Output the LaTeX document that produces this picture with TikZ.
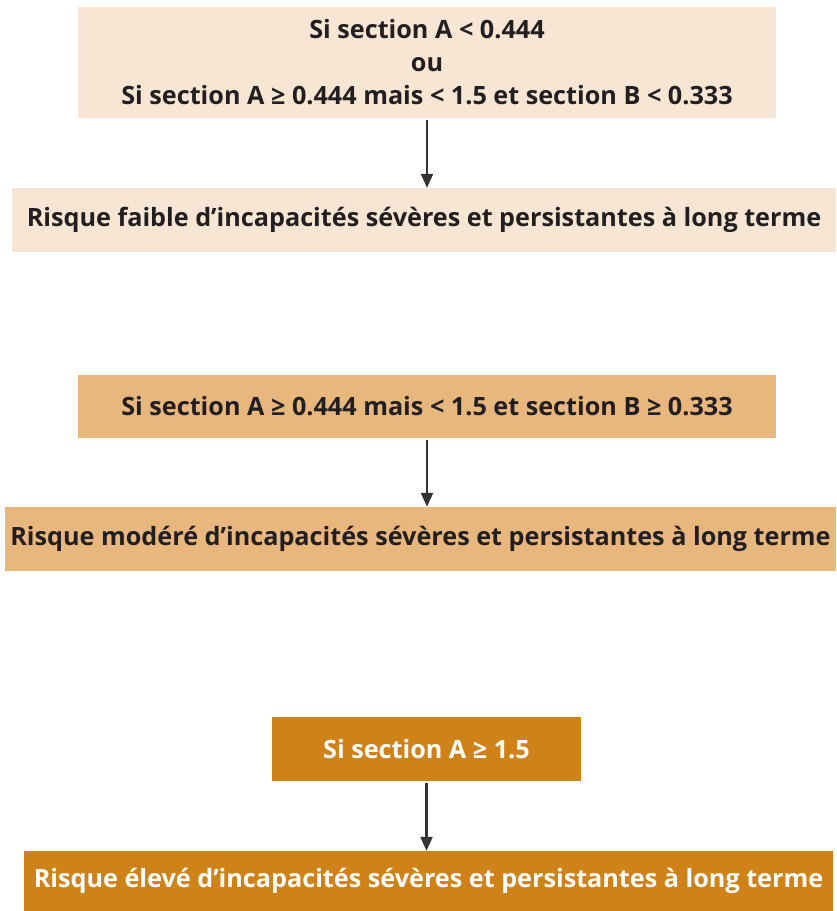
\documentclass[tikz,border=0pt]{standalone}
\usepackage{fontspec}
\setmainfont{Open Sans}
\usetikzlibrary{arrows.meta}

\definecolor{hell}{HTML}{F7E6D4}
\definecolor{mittel}{HTML}{E8B77E}
\definecolor{dunkel}{HTML}{CF8217}
\definecolor{schrift}{HTML}{231F20}
\definecolor{pfeil}{HTML}{333333}

\begin{document}
\begin{tikzpicture}[x=1pt, y=-1pt]
  \useasboundingbox (0, 0) rectangle (836, 911);  % Rand wie im Original.
  \tikzstyle{box}=[rectangle, inner sep=0pt, font=\bfseries\fontsize{25.2}{33}\selectfont, text=schrift, align=center]
  \tikzstyle{pfeil}=[draw=pfeil, line width=2.2pt, -{Triangle[length=14pt, width=12pt]}]

  \node[box, fill=hell,   minimum width=698pt, minimum height=111pt] (b1) at (427,   62.5) {Si section A < 0.444\\ou\\Si section A ≥ 0.444 mais < 1.5 et section B < 0.333};
  \node[box, fill=hell,   minimum width=824pt, minimum height=64pt]  (r1) at (424,  220)   {Risque faible d’incapacités sévères et persistantes à long terme};

  \node[box, fill=mittel, minimum width=698pt, minimum height=63pt]  (b2) at (427,  406.5) {Si section A ≥ 0.444 mais < 1.5 et section B ≥ 0.333};
  \node[box, fill=mittel, minimum width=831pt, minimum height=64pt]  (r2) at (420.5, 539)  {Risque modéré d’incapacités sévères et persistantes à long terme};

  \node[box, fill=dunkel, text=white, minimum width=309pt, minimum height=64pt] (b3) at (426.5, 749) {Si section A ≥ 1.5};
  \node[box, fill=dunkel, text=white, minimum width=809pt, minimum height=60pt] (r3) at (428.5, 881) {Risque élevé d’incapacités sévères et persistantes à long terme};

  \draw[pfeil] ([yshift=-2pt]b1.south) -- (r1.north -| b1.south);
  \draw[pfeil] ([yshift=-2pt]b2.south) -- (r2.north -| b2.south);
  \draw[pfeil] ([yshift=-2pt]b3.south) -- (r3.north -| b3.south);
\end{tikzpicture}
\end{document}
